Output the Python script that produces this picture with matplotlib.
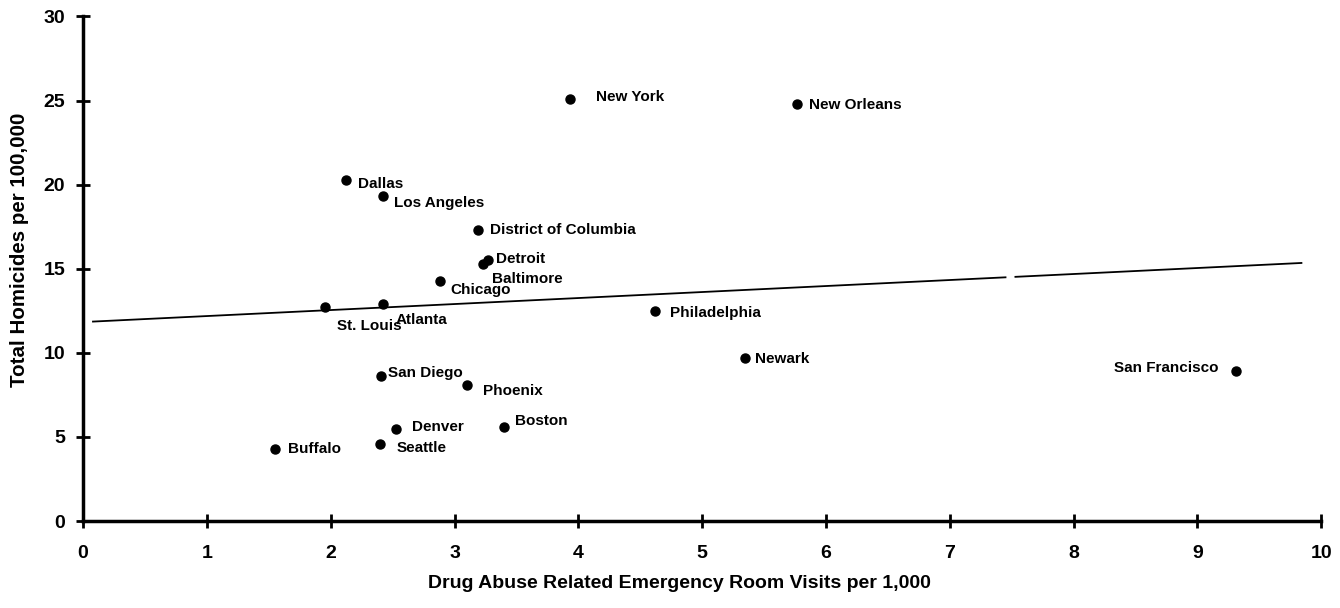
import matplotlib
matplotlib.use('Agg')
import matplotlib.pyplot as plt

plt.rcParams['font.family'] = ['Liberation Sans', 'DejaVu Sans']

# city data
cities = ['New York', 'New Orleans', 'Dallas', 'Los Angeles', 'District of Columbia',
          'Detroit', 'Baltimore', 'Chicago', 'St. Louis', 'Atlanta', 'Philadelphia',
          'Newark', 'San Francisco', 'San Diego', 'Phoenix', 'Denver', 'Boston',
          'Seattle', 'Buffalo']
er_visits = [3.93, 5.77, 2.12, 2.42, 3.19, 3.27, 3.23, 2.88, 1.95, 2.42, 4.62,
             5.35, 9.31, 2.41, 3.10, 2.53, 3.40, 2.40, 1.55]
homicides = [25.1, 24.8, 20.3, 19.3, 17.3, 15.5, 15.3, 14.3, 12.7, 12.9, 12.5,
             9.7, 8.95, 8.6, 8.1, 5.5, 5.6, 4.6, 4.3]

# fitted line (drawn in two pieces, the scan has a small break in it)
fit_x = [[0.08, 7.45], [7.53, 9.84]]
fit_b = 11.83
fit_m = 0.357

xticks = list(range(0, 11))
yticks = [0, 5, 10, 15, 20, 25, 30]

# label offsets in pixels (dx, dy), dy positive = up
label_off = {
    'New York': (26, 2), 'New Orleans': (12, -1), 'Dallas': (12, -4),
    'Los Angeles': (11, -7), 'District of Columbia': (12, 0), 'Detroit': (8, 1),
    'Baltimore': (9, -15), 'Chicago': (11, -9), 'St. Louis': (12, -19),
    'Atlanta': (13, -16), 'Philadelphia': (15, -2), 'Newark': (10, -1),
    'San Francisco': (-17, 3), 'San Diego': (7, 3), 'Phoenix': (16, -6),
    'Denver': (16, 2), 'Boston': (11, 6), 'Seattle': (16, -4), 'Buffalo': (13, 0),
}

fig = plt.figure(figsize=(13.4, 6.08), dpi=100)
ax = fig.add_axes([0.062, 0.143, 0.924, 0.83])

ax.plot(er_visits, homicides, 'o', color='black', markersize=6.5, clip_on=False, zorder=3)
for seg in fit_x:
    ax.plot(seg, [fit_b + fit_m * v for v in seg], color='black', linewidth=1.3)

for name, xv, yv in zip(cities, er_visits, homicides):
    dx, dy = label_off[name]
    ha = 'right' if dx < 0 else 'left'
    ax.annotate(name, (xv, yv), xytext=(dx, dy), textcoords='offset pixels',
                ha=ha, va='center', fontsize=11, fontweight='bold')

ax.set_xlim(0, 10)
ax.set_ylim(0, 30)
ax.set_xticks(xticks)
ax.set_yticks(yticks)
for s in ['top', 'right']:
    ax.spines[s].set_visible(False)
for s in ['left', 'bottom']:
    ax.spines[s].set_linewidth(2.5)
ax.tick_params(direction='inout', length=10, width=2, labelsize=14)
ax.tick_params(axis='x', pad=12)
ax.tick_params(axis='y', pad=8)
for lab in ax.get_xticklabels() + ax.get_yticklabels():
    lab.set_fontweight('bold')

ax.set_xlabel('Drug Abuse Related Emergency Room Visits per 1,000', fontsize=14,
              fontweight='bold')
ax.set_ylabel('Total Homicides per 100,000', fontsize=14.8, fontweight='bold')
ax.xaxis.set_label_coords(0.482, -0.107)
ax.yaxis.set_label_coords(-0.0436, 0.538)

plt.savefig('out.png', dpi=100)
